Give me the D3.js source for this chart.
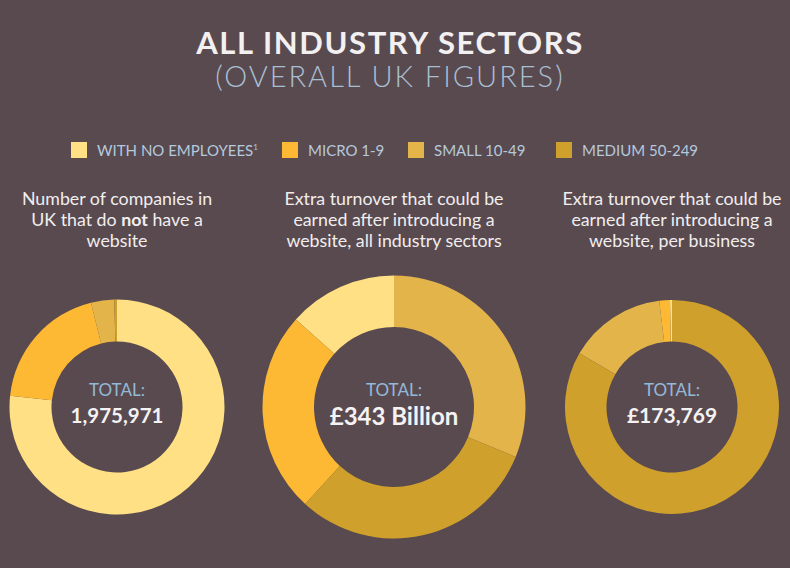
<!DOCTYPE html>
<html>
<head>
<meta charset="utf-8">
<script src="https://cdn.jsdelivr.net/npm/d3@7"></script>
<style>
    html, body { margin: 0; padding: 0; background: #594a50; }
    svg { display: block; }
</style>
</head>
<body>
<div id="chart"></div>
<script>
// sizes of business, same order in every chart
var categories = ['WITH NO EMPLOYEES', 'MICRO 1-9', 'SMALL 10-49', 'MEDIUM 50-249'];
var colors = ['#ffe085', '#fdb933', '#e3b44a', '#d0a02d'];

// companies without a website
var companiesNoSite = [1515000, 384000, 69000, 7971];
// extra turnover, all sectors (£ billion)
var turnoverAll = [46, 85, 107, 105];
// extra turnover per business (£)
var turnoverPerBusiness = [520, 2800, 25600, 144849];

var totals = ['1,975,971', '£343 Billion', '£173,769'];
var captions = [
    [['Number of companies in'], ['UK that do ', 'not', ' have a'], ['website']],
    [['Extra turnover that could be'], ['earned after introducing a'], ['website, all industry sectors']],
    [['Extra turnover that could be'], ['earned after introducing a'], ['website, per business']]
];

(function () {
    var width = 790, height = 568;

    var svg = d3.select('#chart').append('svg')
        .attr('width', width)
        .attr('height', height);

    svg.append('rect')
        .attr('width', width)
        .attr('height', height)
        .attr('fill', '#594a50');

    // title
    svg.append('text')
        .attr('x', 390).attr('y', 54)
        .attr('text-anchor', 'middle')
        .attr('fill', '#f2f0f0')
        .style('font-family', 'Lato, "Open Sans", sans-serif')
        .style('font-weight', 700)
        .style('font-size', '31px')
        .style('letter-spacing', '1.6px')
        .text('ALL INDUSTRY SECTORS');

    svg.append('text')
        .attr('x', 390).attr('y', 87)
        .attr('text-anchor', 'middle')
        .attr('fill', '#a8bfd3')
        .style('font-family', 'Lato, "Open Sans", sans-serif')
        .style('font-weight', 300)
        .style('font-size', '29px')
        .style('letter-spacing', '2px')
        .text('(OVERALL UK FIGURES)');

    // legend
    var legendX = [71, 282, 408, 556];
    var legend = svg.selectAll('g.legend')
        .data(categories).enter()
        .append('g')
        .attr('class', 'legend')
        .attr('transform', function (d, i) { return 'translate(' + legendX[i] + ',142)'; });

    legend.append('rect')
        .attr('width', 16)
        .attr('height', 16)
        .attr('fill', function (d, i) { return colors[i]; });

    var legendText = legend.append('text')
        .attr('x', 26)
        .attr('y', 14)
        .attr('fill', '#b4c9dc')
        .style('font-family', 'Lato, sans-serif')
        .style('font-size', '15px')
        .text(function (d) { return d; });

    legendText.filter(function (d, i) { return i === 0; })
        .append('tspan')
        .attr('dy', -6)
        .style('font-size', '8px')
        .text('1');

    // donut charts
    var charts = [
        { values: companiesNoSite, cx: 117, outer: 107.5, inner: 65.5, size: 20.5 },
        { values: turnoverAll, cx: 394, outer: 131.5, inner: 80, size: 24 },
        { values: turnoverPerBusiness, cx: 672, outer: 107, inner: 65.5, size: 21 }
    ];
    var cy = 407;

    // default sort: biggest slice first, clockwise from 12 o'clock
    var pie = d3.pie();

    charts.forEach(function (c, k) {
        var g = svg.append('g')
            .attr('transform', 'translate(' + c.cx + ',' + cy + ')');

        var arc = d3.arc()
            .innerRadius(c.inner)
            .outerRadius(c.outer);

        // arcs come back in data order, so i is the category
        g.selectAll('path')
            .data(pie(c.values)).enter()
            .append('path')
            .attr('d', arc)
            .attr('fill', function (d, i) { return colors[i]; });

        g.append('text')
            .attr('y', -11)
            .attr('text-anchor', 'middle')
            .attr('fill', '#94b9d8')
            .style('font-family', 'Lato, sans-serif')
            .style('font-size', '17px')
            .text('TOTAL:');

        g.append('text')
            .attr('y', k === 1 ? 18 : 16)
            .attr('text-anchor', 'middle')
            .attr('fill', '#f4f2f2')
            .style('font-family', 'Lato, sans-serif')
            .style('font-weight', 700)
            .style('font-size', c.size + 'px')
            .text(totals[k]);

        // caption above the donut
        var cap = svg.append('text')
            .attr('text-anchor', 'middle')
            .attr('fill', '#f1eeee')
            .style('font-family', 'Lato, sans-serif')
            .style('font-size', '17.8px');

        captions[k].forEach(function (line, j) {
            line.forEach(function (part, p) {
                var t = cap.append('tspan').text(part);
                if (p === 0) t.attr('x', c.cx).attr('y', 205 + j * 21);
                if (part === 'not') t.style('font-weight', 700);
            });
        });
    });
})();
</script>
</body>
</html>
